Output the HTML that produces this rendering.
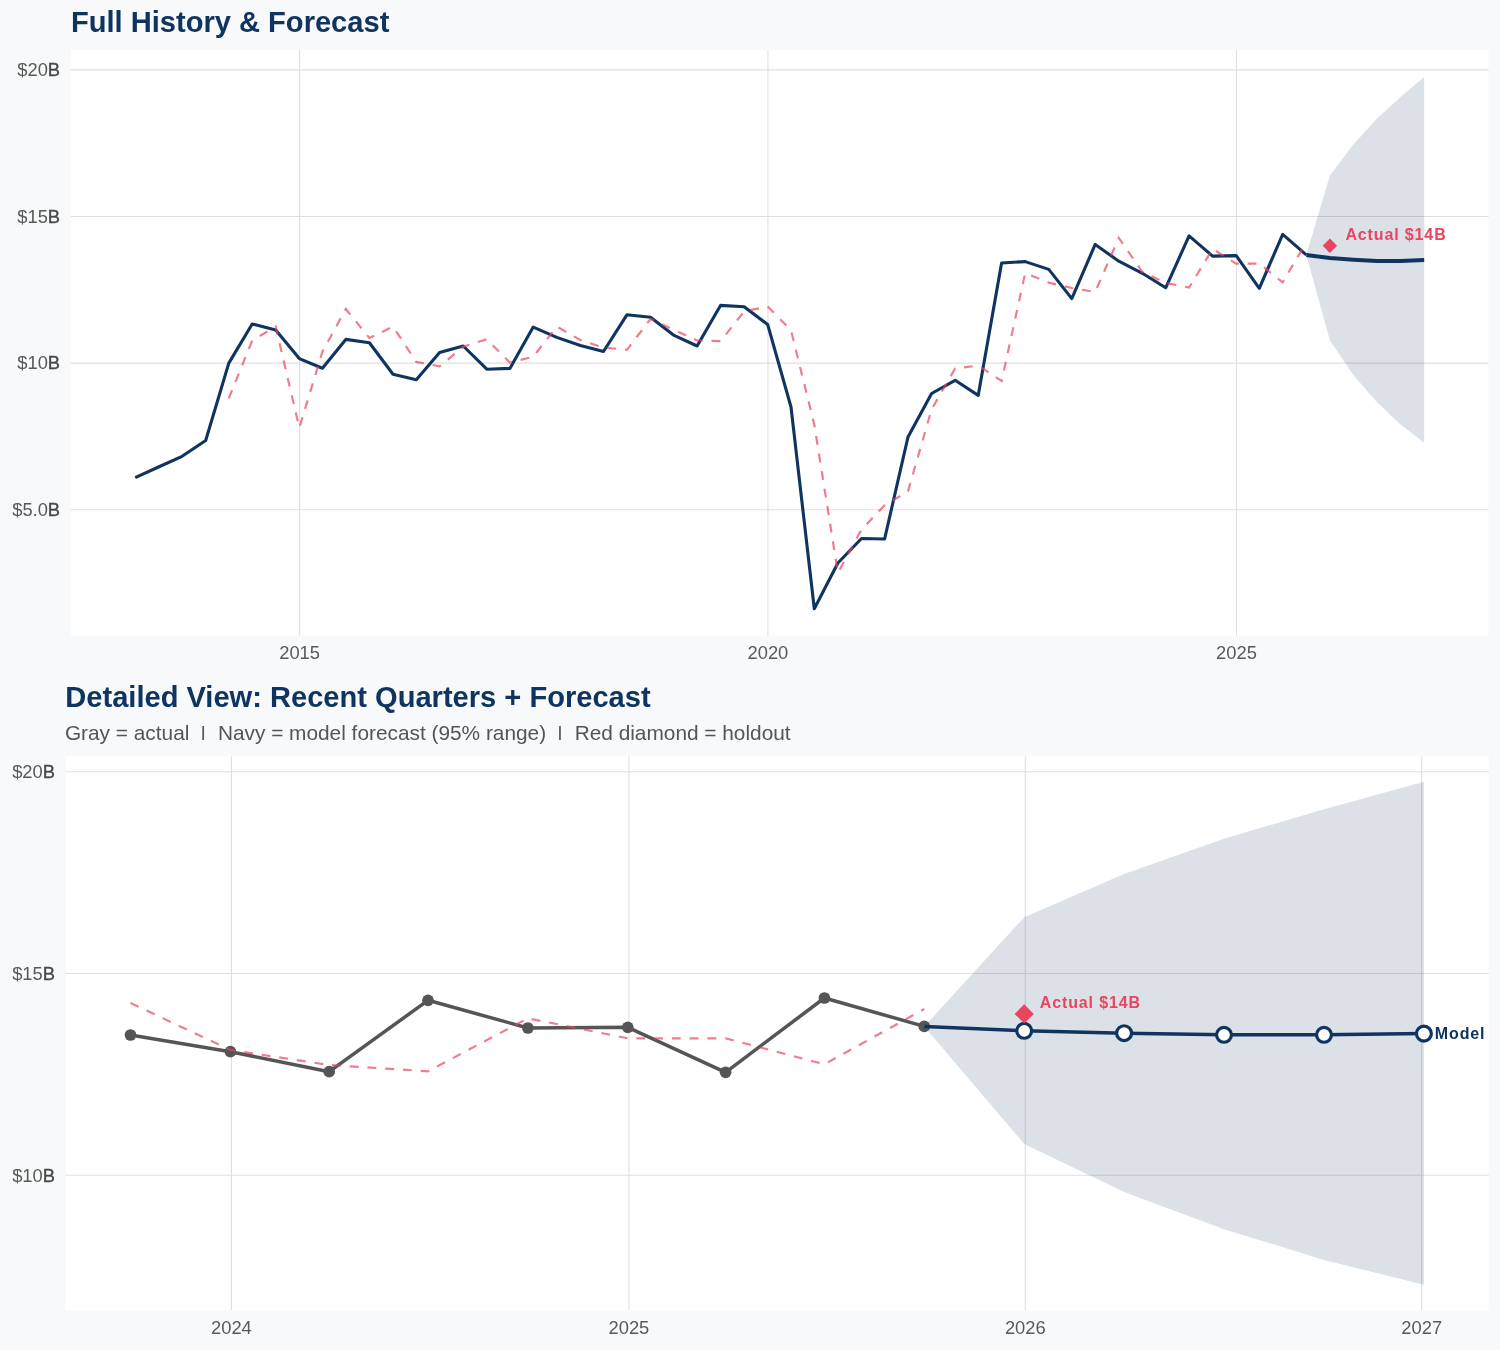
<!DOCTYPE html>
<html lang="en"><head><meta charset="utf-8"><title>Forecast</title>
<style>
html,body{margin:0;padding:0;background:#f8f9fa;}
svg{display:block;font-family:"Liberation Sans",Arial,Helvetica,sans-serif;}
.ttl{font-size:29.08px;font-weight:bold;fill:#0f3460;}
.sub{font-size:20.83px;fill:#555555;}
.ax{font-size:18.33px;fill:#595959;}
.bb{fill:#484848;stroke:#484848;stroke-width:0.35px;}
.lbl{font-size:16px;font-weight:bold;letter-spacing:0.87px;}
.g{stroke:#dfdfdf;stroke-width:1.1;fill:none;}
</style></head><body>
<svg width="1500" height="1350" viewBox="0 0 1500 1350">
<rect x="0" y="0" width="1500" height="1350" fill="#f8f9fa"/>

<text class="ttl" x="71.0" y="31.5">Full History &amp; Forecast</text>
<rect x="70.8" y="50.0" width="1417.8" height="585.5" fill="#ffffff"/>
<line class="g" x1="70.8" x2="1488.6" y1="509.70" y2="509.70"/>
<line class="g" x1="70.8" x2="1488.6" y1="363.10" y2="363.10"/>
<line class="g" x1="70.8" x2="1488.6" y1="216.50" y2="216.50"/>
<line class="g" x1="70.8" x2="1488.6" y1="69.90" y2="69.90"/>
<line class="g" x1="299.60" x2="299.60" y1="50.0" y2="635.5"/>
<line class="g" x1="767.92" x2="767.92" y1="50.0" y2="635.5"/>
<line class="g" x1="1236.50" x2="1236.50" y1="50.0" y2="635.5"/>
<polygon points="1306.3,254.9 1329.9,175.6 1353.5,144.2 1377.0,118.6 1400.6,97.1 1424.2,77.1 1424.2,442.7 1400.6,424.6 1377.0,402.3 1353.5,375.2 1329.9,340.4 1306.3,254.9" fill="#0f3460" fill-opacity="0.15"/>
<polyline points="135.2,477.7 158.5,467.0 182.1,456.3 205.7,440.5 228.8,363.1 252.2,324.0 275.7,329.9 299.3,358.6 322.4,368.2 345.8,339.4 369.4,342.7 393.0,374.2 416.3,379.7 439.6,352.5 463.2,346.0 486.8,369.2 509.9,368.4 533.2,327.1 556.8,337.4 580.4,345.5 603.5,351.5 626.9,314.8 650.5,317.3 674.1,335.4 697.1,346.0 720.5,305.4 744.1,306.7 767.7,324.6 791.0,407.0 814.3,608.7 837.9,563.0 861.5,538.5 884.6,539.0 908.0,437.0 931.6,393.5 955.1,380.3 978.2,395.4 1001.6,263.0 1025.2,261.6 1048.8,269.4 1071.8,298.6 1095.2,244.4 1118.8,261.2 1142.4,273.3 1165.7,287.8 1189.1,235.9 1212.6,256.1 1236.2,255.6 1259.3,288.3 1282.7,234.3 1306.3,254.9" fill="none" stroke="#0f3460" stroke-width="3.1" stroke-linejoin="round"/>
<polyline points="1306.3,254.9 1329.9,258.1 1353.5,259.8 1377.0,261.0 1400.6,261.0 1424.2,260.1" fill="none" stroke="#0f3460" stroke-width="4.0" stroke-linejoin="round"/>
<polyline points="228.8,398.4 252.2,340.5 275.7,326.6 299.3,427.8" fill="none" stroke="#e94560" stroke-opacity="0.7" stroke-width="2.2" stroke-dasharray="8.901 8.901" stroke-dashoffset="0.000"/>
<polyline points="299.3,427.8 322.4,351.8 345.8,309.0 369.4,338.0 393.0,326.6 416.3,361.9 439.6,366.4 463.2,346.8 486.8,339.2 509.9,362.6 533.2,356.8 556.8,326.6 580.4,340.0 603.5,347.5 626.9,349.8 650.5,319.0 674.1,329.9 697.1,340.5 720.5,341.2 744.1,311.5 767.7,306.5 791.0,330.2 814.3,424.7 837.9,572.8" fill="none" stroke="#e94560" stroke-opacity="0.7" stroke-width="2.2" stroke-dasharray="8.878 8.878" stroke-dashoffset="15.661"/>
<polyline points="837.9,572.8 861.5,529.6 884.6,505.3 908.0,491.3 931.6,409.3 955.1,368.5 978.2,365.6 1001.6,381.0 1025.2,273.0 1048.8,282.6 1071.8,288.0 1095.2,292.0 1118.8,237.9 1142.4,272.1 1165.7,283.0 1189.1,287.5 1212.6,249.0 1236.2,263.6 1259.3,263.6 1282.7,282.4 1306.3,242.3" fill="none" stroke="#e94560" stroke-opacity="0.7" stroke-width="2.2" stroke-dasharray="8.850 8.850" stroke-dashoffset="14.121"/>
<polygon points="1329.9,238.6 1337.1,245.8 1329.9,253.0 1322.7,245.8" fill="#e94560"/>
<text class="lbl" x="1345.4" y="239.5" fill="#e94560">Actual $14B</text>
<text class="ax" text-anchor="end" x="60.1" y="515.8">$5.0<tspan class="bb">B</tspan></text>
<text class="ax" text-anchor="end" x="60.1" y="369.2">$10<tspan class="bb">B</tspan></text>
<text class="ax" text-anchor="end" x="60.1" y="222.6">$15<tspan class="bb">B</tspan></text>
<text class="ax" text-anchor="end" x="60.1" y="76.0">$20<tspan class="bb">B</tspan></text>
<text class="ax" text-anchor="middle" x="299.6" y="659.2">2015</text>
<text class="ax" text-anchor="middle" x="767.9" y="659.2">2020</text>
<text class="ax" text-anchor="middle" x="1236.5" y="659.2">2025</text>
<text class="ttl" x="65.3" y="706.6">Detailed View: Recent Quarters + Forecast</text>
<text class="sub" x="64.90" y="739.9">Gray = actual</text>
<text class="sub" transform="translate(200.43,736.7) scale(1,0.735)">|</text>
<text class="sub" x="217.92" y="739.9">Navy = model forecast (95% range)</text>
<text class="sub" transform="translate(557.18,736.7) scale(1,0.735)">|</text>
<text class="sub" x="574.67" y="739.9">Red diamond = holdout</text>
<rect x="65.3" y="756.4" width="1423.5" height="553.9" fill="#ffffff"/>
<line class="g" x1="65.3" x2="1488.8" y1="1175.30" y2="1175.30"/>
<line class="g" x1="65.3" x2="1488.8" y1="973.55" y2="973.55"/>
<line class="g" x1="65.3" x2="1488.8" y1="771.80" y2="771.80"/>
<line class="g" x1="231.45" x2="231.45" y1="756.4" y2="1310.3"/>
<line class="g" x1="628.92" x2="628.92" y1="756.4" y2="1310.3"/>
<line class="g" x1="1025.31" x2="1025.31" y1="756.4" y2="1310.3"/>
<line class="g" x1="1421.70" x2="1421.70" y1="756.4" y2="1310.3"/>
<polygon points="924.3,1026.4 1024.2,917.2 1124.1,874.0 1224.0,838.8 1324.0,809.2 1423.9,781.7 1423.9,1284.8 1324.0,1260.0 1224.0,1229.2 1124.1,1192.0 1024.2,1144.0 924.3,1026.4" fill="#0f3460" fill-opacity="0.15"/>
<polyline points="130.5,1035.0 230.4,1051.7 329.2,1071.7 428.0,1000.3 527.9,1028.0 627.8,1027.3 725.6,1072.3 824.4,998.0 924.3,1026.4" fill="none" stroke="#555555" stroke-width="3.5" stroke-linejoin="round"/>
<circle cx="130.5" cy="1035.0" r="5.85" fill="#555555"/>
<circle cx="230.4" cy="1051.7" r="5.85" fill="#555555"/>
<circle cx="329.2" cy="1071.7" r="5.85" fill="#555555"/>
<circle cx="428.0" cy="1000.3" r="5.85" fill="#555555"/>
<circle cx="527.9" cy="1028.0" r="5.85" fill="#555555"/>
<circle cx="627.8" cy="1027.3" r="5.85" fill="#555555"/>
<circle cx="725.6" cy="1072.3" r="5.85" fill="#555555"/>
<circle cx="824.4" cy="998.0" r="5.85" fill="#555555"/>
<circle cx="924.3" cy="1026.4" r="5.85" fill="#555555"/>
<polyline points="130.5,1003.0 230.4,1050.0 329.2,1065.0 428.0,1071.3 527.9,1018.3 627.8,1038.3 725.6,1038.3 824.4,1064.3 924.3,1009.0" fill="none" stroke="#e94560" stroke-opacity="0.7" stroke-width="2.2" stroke-dasharray="8.881 8.881"/>
<polyline points="924.3,1026.4 1024.2,1030.8 1124.1,1033.2 1224.0,1034.8 1324.0,1034.8 1423.9,1033.6" fill="none" stroke="#0f3460" stroke-width="3.5" stroke-linejoin="round"/>
<circle cx="1024.2" cy="1030.8" r="7.45" fill="#ffffff" stroke="#0f3460" stroke-width="3.2"/>
<circle cx="1124.1" cy="1033.2" r="7.45" fill="#ffffff" stroke="#0f3460" stroke-width="3.2"/>
<circle cx="1224.0" cy="1034.8" r="7.45" fill="#ffffff" stroke="#0f3460" stroke-width="3.2"/>
<circle cx="1324.0" cy="1034.8" r="7.45" fill="#ffffff" stroke="#0f3460" stroke-width="3.2"/>
<circle cx="1423.9" cy="1033.6" r="7.45" fill="#ffffff" stroke="#0f3460" stroke-width="3.2"/>
<polygon points="1024.2,1004.3 1033.8,1013.9 1024.2,1023.5 1014.6,1013.9" fill="#e94560"/>
<text class="lbl" x="1039.8" y="1007.6" fill="#e94560">Actual $14B</text>
<text class="lbl" x="1434.8" y="1038.8" fill="#0f3460">Model</text>
<text class="ax" text-anchor="end" x="55.0" y="1181.5">$10<tspan class="bb">B</tspan></text>
<text class="ax" text-anchor="end" x="55.0" y="979.8">$15<tspan class="bb">B</tspan></text>
<text class="ax" text-anchor="end" x="55.0" y="778.0">$20<tspan class="bb">B</tspan></text>
<text class="ax" text-anchor="middle" x="231.4" y="1334.0">2024</text>
<text class="ax" text-anchor="middle" x="628.9" y="1334.0">2025</text>
<text class="ax" text-anchor="middle" x="1025.3" y="1334.0">2026</text>
<text class="ax" text-anchor="middle" x="1421.7" y="1334.0">2027</text>
</svg>
</body></html>
